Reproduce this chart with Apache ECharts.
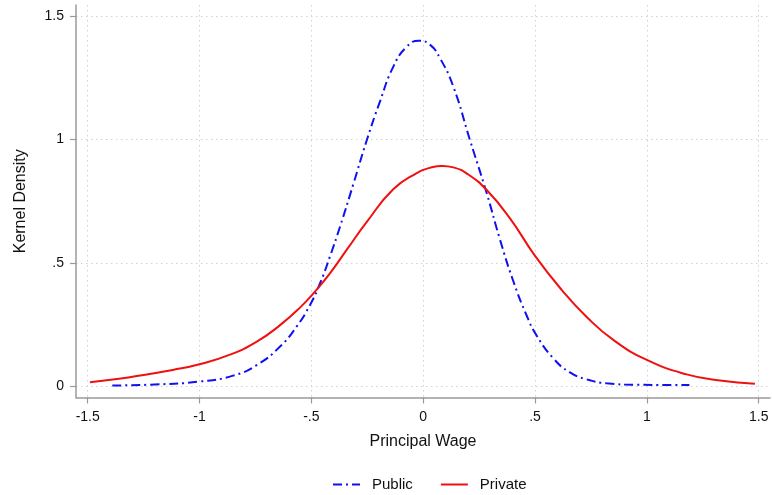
<!DOCTYPE html>
<html>
<head>
<meta charset="utf-8">
<script src="https://cdn.jsdelivr.net/npm/echarts@6/dist/echarts.min.js"></script>
<style>
	html, body { margin: 0; padding: 0; background: #fff; }
	#chart { width: 772px; height: 495px; }
</style>
</head>
<body>
<div id="chart"></div>
<script>
// Data
var publicX = [-1.39, -1.2, -1.0, -0.85, -0.744, -0.64, -0.566, -0.506, -0.461, -0.417, -0.372, -0.312, -0.253, -0.193, -0.134, -0.074, -0.02, 0.03, 0.075, 0.135, 0.209, 0.284, 0.343, 0.403, 0.463, 0.507, 0.582, 0.656, 0.731, 0.82, 0.95, 1.19];
var publicY = [0.002, 0.006, 0.018, 0.042, 0.085, 0.160, 0.241, 0.329, 0.417, 0.525, 0.646, 0.820, 0.995, 1.155, 1.295, 1.376, 1.401, 1.385, 1.330, 1.214, 0.998, 0.782, 0.595, 0.425, 0.285, 0.205, 0.112, 0.055, 0.027, 0.011, 0.005, 0.004];

var privateX = [-1.49, -1.36, -1.236, -1.12, -1.0, -0.864, -0.744, -0.64, -0.551, -0.484, -0.417, -0.34, -0.253, -0.134, -0.029, 0.03, 0.085, 0.135, 0.2, 0.284, 0.388, 0.5, 0.62, 0.731, 0.85, 1.0, 1.178, 1.327, 1.483];
var privateY = [0.015, 0.029, 0.047, 0.065, 0.088, 0.127, 0.180, 0.247, 0.318, 0.383, 0.457, 0.555, 0.665, 0.798, 0.864, 0.885, 0.893, 0.887, 0.859, 0.795, 0.680, 0.528, 0.389, 0.280, 0.187, 0.106, 0.047, 0.022, 0.009];

var xTicks = [-1.5, -1, -0.5, 0, 0.5, 1, 1.5];
var yTicks = [0, 0.5, 1, 1.5];

var fontName = "Liberation Sans";

// Stata style labels: ".5" instead of "0.5"
function stataLabel(v) {
	return String(v).replace("0.", ".");
}

function pairs(xs, ys) {
	return xs.map(function (x, i) { return [x, ys[i]]; });
}

var chart = echarts.init(document.getElementById("chart"));

var axisGray = "#9a9a9a";
var gridGray = "#d2d2d2";

chart.setOption({
	animation: false,
	backgroundColor: "#fff",
	grid: { left: 76, right: 2, top: 5, bottom: 97.5 },
	legend: {
		left: 327,
		top: 472,
		itemWidth: 27,
		itemHeight: 14,
		itemGap: 27,
		textStyle: { fontFamily: fontName, fontSize: 15, color: "#111", padding: [0, 0, 0, 7] },
		// hide the symbol in the legend icon, keep the line
		data: [
			{ name: "Public", itemStyle: { opacity: 0 } },
			{ name: "Private", itemStyle: { opacity: 0 } }
		]
	},
	xAxis: {
		type: "value",
		min: -1.5523,
		max: 1.5505,
		name: "Principal Wage",
		nameLocation: "middle",
		nameGap: 36,
		nameTextStyle: { fontFamily: fontName, fontSize: 16, color: "#111" },
		axisLine: { show: true, onZero: false, lineStyle: { color: axisGray, width: 1.5 } },
		axisTick: { show: true, length: 6, customValues: xTicks, lineStyle: { color: axisGray, width: 1.2 } },
		axisLabel: { customValues: xTicks, margin: 13, fontFamily: fontName, fontSize: 14, color: "#111", formatter: stataLabel },
		splitLine: { show: true, lineStyle: { color: gridGray, type: [1.5, 3.5], width: 1 } }
	},
	yAxis: {
		type: "value",
		min: -0.0467,
		max: 1.5458,
		name: "Kernel Density",
		nameLocation: "middle",
		nameGap: 47,
		nameTextStyle: { fontFamily: fontName, fontSize: 16, color: "#111" },
		axisLine: { show: true, onZero: false, lineStyle: { color: axisGray, width: 1.5 } },
		axisTick: { show: true, length: 6, customValues: yTicks, lineStyle: { color: axisGray, width: 1.2 } },
		axisLabel: { customValues: yTicks, margin: 12, fontFamily: fontName, fontSize: 14, color: "#111", formatter: stataLabel },
		splitLine: { show: true, lineStyle: { color: gridGray, type: [1.5, 3.5], width: 1 } }
	},
	series: [
		{
			name: "Public",
			type: "line",
			data: pairs(publicX, publicY),
			smooth: 0.5,
			symbol: "none",
			lineStyle: { color: "#1010f0", width: 2, type: [9, 4, 2, 4] },
			itemStyle: { color: "#1010f0" }
		},
		{
			name: "Private",
			type: "line",
			data: pairs(privateX, privateY),
			smooth: 0.5,
			symbol: "none",
			lineStyle: { color: "#f01010", width: 2 },
			itemStyle: { color: "#f01010" }
		}
	]
});
</script>
</body>
</html>
